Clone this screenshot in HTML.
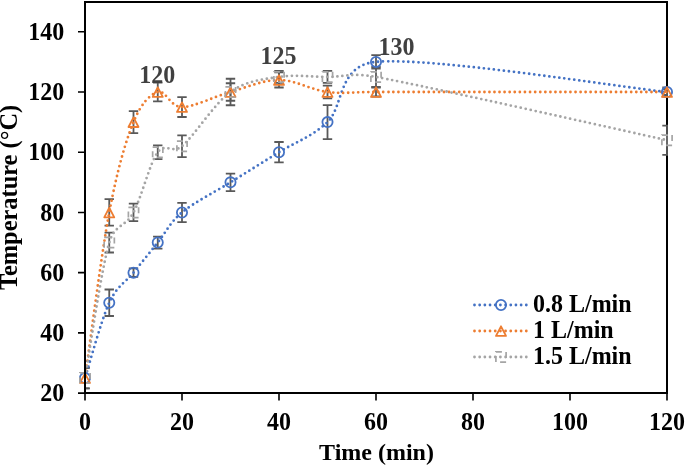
<!DOCTYPE html><html><head><meta charset="utf-8"><style>html,body{margin:0;padding:0;background:#fff;overflow:hidden;}svg{display:block;will-change:transform;}text{font-family:"Liberation Serif",serif;font-weight:bold;}</style></head><body>
<svg width="685" height="465" viewBox="0 0 685 465">
<defs><clipPath id="pa"><rect x="85" y="2" width="583" height="391"/></clipPath></defs>
<path d="M85 2 H667 V393" fill="none" stroke="#000" stroke-width="2" stroke-linecap="square" stroke-linejoin="miter"/>
<circle cx="85.00" cy="378.05" r="5.1" fill="#fff" stroke="none" stroke-width="1.8"/>
<circle cx="109.25" cy="302.77" r="5.1" fill="#fff" stroke="none" stroke-width="1.8"/>
<circle cx="133.50" cy="272.66" r="5.1" fill="#fff" stroke="none" stroke-width="1.8"/>
<circle cx="157.75" cy="242.55" r="5.1" fill="#fff" stroke="none" stroke-width="1.8"/>
<circle cx="182.00" cy="212.44" r="5.1" fill="#fff" stroke="none" stroke-width="1.8"/>
<circle cx="230.50" cy="182.33" r="5.1" fill="#fff" stroke="none" stroke-width="1.8"/>
<circle cx="279.00" cy="152.22" r="5.1" fill="#fff" stroke="none" stroke-width="1.8"/>
<circle cx="327.50" cy="122.11" r="5.1" fill="#fff" stroke="none" stroke-width="1.8"/>
<circle cx="376.00" cy="61.89" r="5.1" fill="#fff" stroke="none" stroke-width="1.8"/>
<circle cx="667.00" cy="92.00" r="5.1" fill="#fff" stroke="none" stroke-width="1.8"/>
<path d="M85.00 373.35 L90.00 382.94 L80.00 382.94 Z" fill="#fff" stroke="none" stroke-width="1.8" stroke-linejoin="round"/>
<path d="M109.25 207.74 L114.25 217.34 L104.25 217.34 Z" fill="#fff" stroke="none" stroke-width="1.8" stroke-linejoin="round"/>
<path d="M133.50 117.41 L138.50 127.01 L128.50 127.01 Z" fill="#fff" stroke="none" stroke-width="1.8" stroke-linejoin="round"/>
<path d="M157.75 87.30 L162.75 96.90 L152.75 96.90 Z" fill="#fff" stroke="none" stroke-width="1.8" stroke-linejoin="round"/>
<path d="M182.00 102.36 L187.00 111.96 L177.00 111.96 Z" fill="#fff" stroke="none" stroke-width="1.8" stroke-linejoin="round"/>
<path d="M230.50 87.30 L235.50 96.90 L225.50 96.90 Z" fill="#fff" stroke="none" stroke-width="1.8" stroke-linejoin="round"/>
<path d="M279.00 75.26 L284.00 84.86 L274.00 84.86 Z" fill="#fff" stroke="none" stroke-width="1.8" stroke-linejoin="round"/>
<path d="M327.50 87.30 L332.50 96.90 L322.50 96.90 Z" fill="#fff" stroke="none" stroke-width="1.8" stroke-linejoin="round"/>
<path d="M376.00 87.30 L381.00 96.90 L371.00 96.90 Z" fill="#fff" stroke="none" stroke-width="1.8" stroke-linejoin="round"/>
<path d="M667.00 87.30 L672.00 96.90 L662.00 96.90 Z" fill="#fff" stroke="none" stroke-width="1.8" stroke-linejoin="round"/>
<path d="M79.90 372.94 h10.2 v10.2 h-10.2 z" fill="#fff" stroke="none" stroke-width="1.7"/>
<path d="M104.15 237.45 h10.2 v10.2 h-10.2 z" fill="#fff" stroke="none" stroke-width="1.7"/>
<path d="M128.40 207.34 h10.2 v10.2 h-10.2 z" fill="#fff" stroke="none" stroke-width="1.7"/>
<path d="M152.65 147.12 h10.2 v10.2 h-10.2 z" fill="#fff" stroke="none" stroke-width="1.7"/>
<path d="M176.90 141.10 h10.2 v10.2 h-10.2 z" fill="#fff" stroke="none" stroke-width="1.7"/>
<path d="M225.40 86.90 h10.2 v10.2 h-10.2 z" fill="#fff" stroke="none" stroke-width="1.7"/>
<path d="M273.90 71.84 h10.2 v10.2 h-10.2 z" fill="#fff" stroke="none" stroke-width="1.7"/>
<path d="M322.40 71.84 h10.2 v10.2 h-10.2 z" fill="#fff" stroke="none" stroke-width="1.7"/>
<path d="M370.90 71.84 h10.2 v10.2 h-10.2 z" fill="#fff" stroke="none" stroke-width="1.7"/>
<path d="M661.90 135.08 h10.2 v10.2 h-10.2 z" fill="#fff" stroke="none" stroke-width="1.7"/>
<g clip-path="url(#pa)" stroke="#595959" stroke-width="1.8" fill="none">
<path d="M85.00 367.81 V388.28 M80.30 367.81 H89.70 M80.30 388.28 H89.70"/>
<path d="M109.25 289.52 V316.02 M104.55 289.52 H113.95 M104.55 316.02 H113.95"/>
<path d="M133.50 268.44 V276.88 M128.80 268.44 H138.20 M128.80 276.88 H138.20"/>
<path d="M157.75 236.53 V248.57 M153.05 236.53 H162.45 M153.05 248.57 H162.45"/>
<path d="M182.00 202.80 V222.08 M177.30 202.80 H186.70 M177.30 222.08 H186.70"/>
<path d="M230.50 173.60 V191.06 M225.80 173.60 H235.20 M225.80 191.06 H235.20"/>
<path d="M279.00 141.98 V162.46 M274.30 141.98 H283.70 M274.30 162.46 H283.70"/>
<path d="M327.50 105.10 V139.12 M322.80 105.10 H332.20 M322.80 139.12 H332.20"/>
<path d="M376.00 55.12 V68.66 M371.30 55.12 H380.70 M371.30 68.66 H380.70"/>
<path d="M667.00 88.99 V95.01 M662.30 88.99 H671.70 M662.30 95.01 H671.70"/>
<path d="M85.00 367.81 V388.28 M80.30 367.81 H89.70 M80.30 388.28 H89.70"/>
<path d="M109.25 199.19 V225.69 M104.55 199.19 H113.95 M104.55 225.69 H113.95"/>
<path d="M133.50 111.12 V133.10 M128.80 111.12 H138.20 M128.80 133.10 H138.20"/>
<path d="M157.75 82.67 V101.33 M153.05 82.67 H162.45 M153.05 101.33 H162.45"/>
<path d="M182.00 97.12 V116.99 M177.30 97.12 H186.70 M177.30 116.99 H186.70"/>
<path d="M230.50 78.75 V105.25 M225.80 78.75 H235.20 M225.80 105.25 H235.20"/>
<path d="M279.00 72.43 V87.48 M274.30 72.43 H283.70 M274.30 87.48 H283.70"/>
<path d="M327.50 85.68 V98.32 M322.80 85.68 H332.20 M322.80 98.32 H332.20"/>
<path d="M376.00 87.48 V96.52 M371.30 87.48 H380.70 M371.30 96.52 H380.70"/>
<path d="M667.00 87.48 V96.52 M662.30 87.48 H671.70 M662.30 96.52 H671.70"/>
<path d="M85.00 361.18 V394.91 M80.30 361.18 H89.70 M80.30 394.91 H89.70"/>
<path d="M109.25 232.61 V252.49 M104.55 232.61 H113.95 M104.55 252.49 H113.95"/>
<path d="M133.50 203.71 V221.17 M128.80 203.71 H138.20 M128.80 221.17 H138.20"/>
<path d="M157.75 145.29 V159.15 M153.05 145.29 H162.45 M153.05 159.15 H162.45"/>
<path d="M182.00 135.36 V157.04 M177.30 135.36 H186.70 M177.30 157.04 H186.70"/>
<path d="M230.50 83.27 V100.73 M225.80 83.27 H235.20 M225.80 100.73 H235.20"/>
<path d="M279.00 70.92 V82.97 M274.30 70.92 H283.70 M274.30 82.97 H283.70"/>
<path d="M327.50 70.92 V82.97 M322.80 70.92 H332.20 M322.80 82.97 H332.20"/>
<path d="M376.00 67.01 V86.88 M371.30 67.01 H380.70 M371.30 86.88 H380.70"/>
<path d="M667.00 125.57 V154.78 M662.30 125.57 H671.70 M662.30 154.78 H671.70"/>
</g>
<path d="M85.00 378.05 C89.04 365.50 101.17 320.33 109.25 302.77 C117.33 285.21 125.42 282.70 133.50 272.66 C141.58 262.62 149.67 252.59 157.75 242.55 C165.83 232.51 169.88 222.48 182.00 212.44 C194.12 202.40 214.33 192.37 230.50 182.33 C246.67 172.29 262.83 162.26 279.00 152.22 C295.17 142.18 311.33 137.17 327.50 122.11 C343.67 107.06 337.49 65.31 376.00 61.89 C432.58 56.87 618.50 86.98 667.00 92.00" fill="none" stroke="#4472C4" stroke-width="2.80" stroke-dasharray="0 5.05" stroke-dashoffset="2.98" stroke-linecap="round"/>
<path d="M85.00 378.05 C89.04 350.44 101.17 255.10 109.25 212.44 C117.33 169.78 125.42 142.18 133.50 122.11 C140.72 104.18 149.67 94.51 157.75 92.00 C165.83 89.49 169.88 107.06 182.00 107.06 C194.12 107.06 214.33 96.52 230.50 92.00 C246.67 87.48 262.83 79.96 279.00 79.96 C295.17 79.96 311.33 89.99 327.50 92.00 C343.67 94.01 351.75 92.00 376.00 92.00 C432.58 92.00 618.50 92.00 667.00 92.00" fill="none" stroke="#ED7D31" stroke-width="2.80" stroke-dasharray="0 5.05" stroke-dashoffset="2.55" stroke-linecap="round"/>
<path d="M85.00 378.05 C89.04 355.46 101.17 270.15 109.25 242.55 C114.68 224.00 125.42 227.50 133.50 212.44 C141.58 197.39 149.67 163.26 157.75 152.22 C165.13 142.14 172.38 154.16 182.00 146.20 C194.12 136.16 214.33 103.54 230.50 92.00 C246.67 80.46 262.83 79.45 279.00 76.94 C295.17 74.44 311.33 76.94 327.50 76.94 C343.67 76.94 352.16 72.50 376.00 76.94 C432.58 87.48 618.50 129.64 667.00 140.18" fill="none" stroke="#A5A5A5" stroke-width="2.80" stroke-dasharray="0 5.05" stroke-dashoffset="3.30" stroke-linecap="round"/>
<circle cx="85.00" cy="378.05" r="5.1" fill="none" stroke="#4472C4" stroke-width="1.8"/>
<circle cx="109.25" cy="302.77" r="5.1" fill="none" stroke="#4472C4" stroke-width="1.8"/>
<circle cx="133.50" cy="272.66" r="5.1" fill="none" stroke="#4472C4" stroke-width="1.8"/>
<circle cx="157.75" cy="242.55" r="5.1" fill="none" stroke="#4472C4" stroke-width="1.8"/>
<circle cx="182.00" cy="212.44" r="5.1" fill="none" stroke="#4472C4" stroke-width="1.8"/>
<circle cx="230.50" cy="182.33" r="5.1" fill="none" stroke="#4472C4" stroke-width="1.8"/>
<circle cx="279.00" cy="152.22" r="5.1" fill="none" stroke="#4472C4" stroke-width="1.8"/>
<circle cx="327.50" cy="122.11" r="5.1" fill="none" stroke="#4472C4" stroke-width="1.8"/>
<circle cx="376.00" cy="61.89" r="5.1" fill="none" stroke="#4472C4" stroke-width="1.8"/>
<circle cx="667.00" cy="92.00" r="5.1" fill="none" stroke="#4472C4" stroke-width="1.8"/>
<path d="M85.00 373.35 L90.00 382.94 L80.00 382.94 Z" fill="none" stroke="#ED7D31" stroke-width="1.8" stroke-linejoin="round"/>
<path d="M109.25 207.74 L114.25 217.34 L104.25 217.34 Z" fill="none" stroke="#ED7D31" stroke-width="1.8" stroke-linejoin="round"/>
<path d="M133.50 117.41 L138.50 127.01 L128.50 127.01 Z" fill="none" stroke="#ED7D31" stroke-width="1.8" stroke-linejoin="round"/>
<path d="M157.75 87.30 L162.75 96.90 L152.75 96.90 Z" fill="none" stroke="#ED7D31" stroke-width="1.8" stroke-linejoin="round"/>
<path d="M182.00 102.36 L187.00 111.96 L177.00 111.96 Z" fill="none" stroke="#ED7D31" stroke-width="1.8" stroke-linejoin="round"/>
<path d="M230.50 87.30 L235.50 96.90 L225.50 96.90 Z" fill="none" stroke="#ED7D31" stroke-width="1.8" stroke-linejoin="round"/>
<path d="M279.00 75.26 L284.00 84.86 L274.00 84.86 Z" fill="none" stroke="#ED7D31" stroke-width="1.8" stroke-linejoin="round"/>
<path d="M327.50 87.30 L332.50 96.90 L322.50 96.90 Z" fill="none" stroke="#ED7D31" stroke-width="1.8" stroke-linejoin="round"/>
<path d="M376.00 87.30 L381.00 96.90 L371.00 96.90 Z" fill="none" stroke="#ED7D31" stroke-width="1.8" stroke-linejoin="round"/>
<path d="M667.00 87.30 L672.00 96.90 L662.00 96.90 Z" fill="none" stroke="#ED7D31" stroke-width="1.8" stroke-linejoin="round"/>
<path d="M79.90 372.94 h10.2 v10.2 h-10.2 z" fill="none" stroke="#A5A5A5" stroke-width="1.7" stroke-dasharray="6 4.2"/>
<path d="M104.15 237.45 h10.2 v10.2 h-10.2 z" fill="none" stroke="#A5A5A5" stroke-width="1.7" stroke-dasharray="6 4.2"/>
<path d="M128.40 207.34 h10.2 v10.2 h-10.2 z" fill="none" stroke="#A5A5A5" stroke-width="1.7" stroke-dasharray="6 4.2"/>
<path d="M152.65 147.12 h10.2 v10.2 h-10.2 z" fill="none" stroke="#A5A5A5" stroke-width="1.7" stroke-dasharray="6 4.2"/>
<path d="M176.90 141.10 h10.2 v10.2 h-10.2 z" fill="none" stroke="#A5A5A5" stroke-width="1.7" stroke-dasharray="6 4.2"/>
<path d="M225.40 86.90 h10.2 v10.2 h-10.2 z" fill="none" stroke="#A5A5A5" stroke-width="1.7" stroke-dasharray="6 4.2"/>
<path d="M273.90 71.84 h10.2 v10.2 h-10.2 z" fill="none" stroke="#A5A5A5" stroke-width="1.7" stroke-dasharray="6 4.2"/>
<path d="M322.40 71.84 h10.2 v10.2 h-10.2 z" fill="none" stroke="#A5A5A5" stroke-width="1.7" stroke-dasharray="6 4.2"/>
<path d="M370.90 71.84 h10.2 v10.2 h-10.2 z" fill="none" stroke="#A5A5A5" stroke-width="1.7" stroke-dasharray="6 4.2"/>
<path d="M661.90 135.08 h10.2 v10.2 h-10.2 z" fill="none" stroke="#A5A5A5" stroke-width="1.7" stroke-dasharray="6 4.2"/>
<path d="M85 1 V393 M84 393 H668" fill="none" stroke="#000" stroke-width="2"/>
<path d="M78 393.10 H85 M78 332.88 H85 M78 272.66 H85 M78 212.44 H85 M78 152.22 H85 M78 92.00 H85 M78 31.78 H85 M85.00 393 V400.5 M182.00 393 V400.5 M279.00 393 V400.5 M376.00 393 V400.5 M473.00 393 V400.5 M570.00 393 V400.5 M667.00 393 V400.5 " stroke="#000" stroke-width="1.6" fill="none"/>
<text transform="translate(64.30 401.30) scale(1.000 1.090)" font-size="24" text-anchor="end">20</text>
<text transform="translate(64.30 341.08) scale(1.000 1.090)" font-size="24" text-anchor="end">40</text>
<text transform="translate(64.30 280.86) scale(1.000 1.090)" font-size="24" text-anchor="end">60</text>
<text transform="translate(64.30 220.64) scale(1.000 1.090)" font-size="24" text-anchor="end">80</text>
<text transform="translate(64.30 160.42) scale(1.000 1.090)" font-size="24" text-anchor="end">100</text>
<text transform="translate(64.30 100.20) scale(1.000 1.090)" font-size="24" text-anchor="end">120</text>
<text transform="translate(64.30 39.98) scale(1.000 1.090)" font-size="24" text-anchor="end">140</text>
<text transform="translate(85.00 429.50) scale(1.000 1.090)" font-size="24" text-anchor="middle">0</text>
<text transform="translate(182.00 429.50) scale(1.000 1.090)" font-size="24" text-anchor="middle">20</text>
<text transform="translate(279.00 429.50) scale(1.000 1.090)" font-size="24" text-anchor="middle">40</text>
<text transform="translate(376.00 429.50) scale(1.000 1.090)" font-size="24" text-anchor="middle">60</text>
<text transform="translate(473.00 429.50) scale(1.000 1.090)" font-size="24" text-anchor="middle">80</text>
<text transform="translate(570.00 429.50) scale(1.000 1.090)" font-size="24" text-anchor="middle">100</text>
<text transform="translate(667.00 429.50) scale(1.000 1.090)" font-size="24" text-anchor="middle">120</text>
<text transform="translate(376.50 459.60) scale(1.000 1.000)" font-size="24" text-anchor="middle">Time (min)</text>
<text transform="translate(16.70 197.45) rotate(-90) scale(1.017 1.010)" font-size="24" text-anchor="middle">Temperature (°C)</text>
<text transform="translate(157.30 83.40) scale(1.000 1.090)" font-size="24" text-anchor="middle" fill="#404040">120</text>
<text transform="translate(278.60 63.80) scale(1.000 1.090)" font-size="24" text-anchor="middle" fill="#404040">125</text>
<text transform="translate(396.40 54.70) scale(1.000 1.090)" font-size="24" text-anchor="middle" fill="#404040">130</text>
<circle cx="501.00" cy="305.00" r="5.1" fill="#fff" stroke="none" stroke-width="1.8"/>
<path d="M474.5 305.00 H527" stroke="#4472C4" stroke-width="2.80" stroke-dasharray="0 5.18" stroke-linecap="round" fill="none"/>
<circle cx="501.00" cy="305.00" r="5.1" fill="none" stroke="#4472C4" stroke-width="1.8"/>
<text transform="translate(533.00 312.00) scale(1.000 1.050)" font-size="24">0.8 L/min</text>
<path d="M501.00 326.30 L506.00 335.90 L496.00 335.90 Z" fill="#fff" stroke="none" stroke-width="1.8" stroke-linejoin="round"/>
<path d="M474.5 331.00 H527" stroke="#ED7D31" stroke-width="2.80" stroke-dasharray="0 5.18" stroke-linecap="round" fill="none"/>
<path d="M501.00 326.30 L506.00 335.90 L496.00 335.90 Z" fill="none" stroke="#ED7D31" stroke-width="1.8" stroke-linejoin="round"/>
<text transform="translate(533.00 338.00) scale(1.000 1.050)" font-size="24">1 L/min</text>
<path d="M495.90 351.90 h10.2 v10.2 h-10.2 z" fill="#fff" stroke="none" stroke-width="1.7"/>
<path d="M474.5 357.00 H527" stroke="#A5A5A5" stroke-width="2.80" stroke-dasharray="0 5.18" stroke-linecap="round" fill="none"/>
<path d="M495.90 351.90 h10.2 v10.2 h-10.2 z" fill="none" stroke="#A5A5A5" stroke-width="1.7" stroke-dasharray="6 4.2"/>
<text transform="translate(533.00 364.00) scale(1.000 1.050)" font-size="24">1.5 L/min</text>
</svg></body></html>
